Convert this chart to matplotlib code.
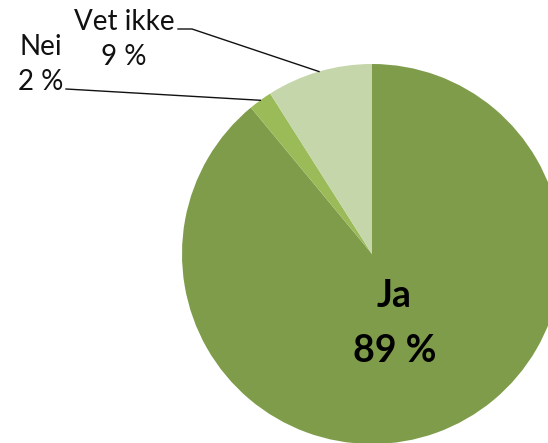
import numpy as np
import matplotlib.pyplot as plt

labels = ["Ja", "Nei", "Vet ikke"]
shares = [89, 2, 9]
colors = ["#7F9C4B", "#9BBB59", "#C4D6AA"]

W, H = 548, 443
fig = plt.figure(figsize=(W / 100, H / 100), dpi=100)
ax = fig.add_axes([0, 0, 1, 1])
fonts = ["Lato", "DejaVu Sans"]

# pie centre / radius in pixel units (y measured from bottom)
cx, cy, r = 372, H - 254, 190
wedges, _ = ax.pie(shares, colors=colors, startangle=90, counterclock=False,
                   center=(cx, cy), radius=r, frame=True,
                   wedgeprops=dict(linewidth=0))
ax.set_xlim(0, W)
ax.set_ylim(0, H)
ax.set_aspect("equal")
ax.axis("off")

# big inside label
ax.text(394, H - 307, labels[0], ha="center", va="baseline", fontsize=27,
        fontweight="bold", color="black", family=fonts)
ax.text(395, H - 362, f"{shares[0]} %", ha="center", va="baseline", fontsize=27,
        fontweight="bold", color="black", family=fonts)

# outside labels with leader lines to wedge midpoints
text_pos = {1: (41, 55), 2: (124, 30)}
line_start = {1: [(66, 89)], 2: [(178, 29), (192, 29)]}
cum = np.cumsum([0] + shares)
for i in (1, 2):
    theta = (cum[i] + cum[i + 1]) / 2 / sum(shares) * 2 * np.pi  # clockwise from top
    ex = cx + r * np.sin(theta)
    ey = cy + r * np.cos(theta)
    tx, ty = text_pos[i]
    ax.text(tx, H - ty, labels[i], ha="center", va="baseline", fontsize=20,
            color="#111111", family=fonts)
    ax.text(tx, H - ty - 35, f"{shares[i]} %", ha="center", va="baseline",
            fontsize=20, color="#111111", family=fonts)
    xs = [p[0] for p in line_start[i]] + [ex]
    ys = [H - p[1] for p in line_start[i]] + [ey]
    ax.plot(xs, ys, color="#111111", linewidth=1)

fig.savefig("out.png", dpi=100)
